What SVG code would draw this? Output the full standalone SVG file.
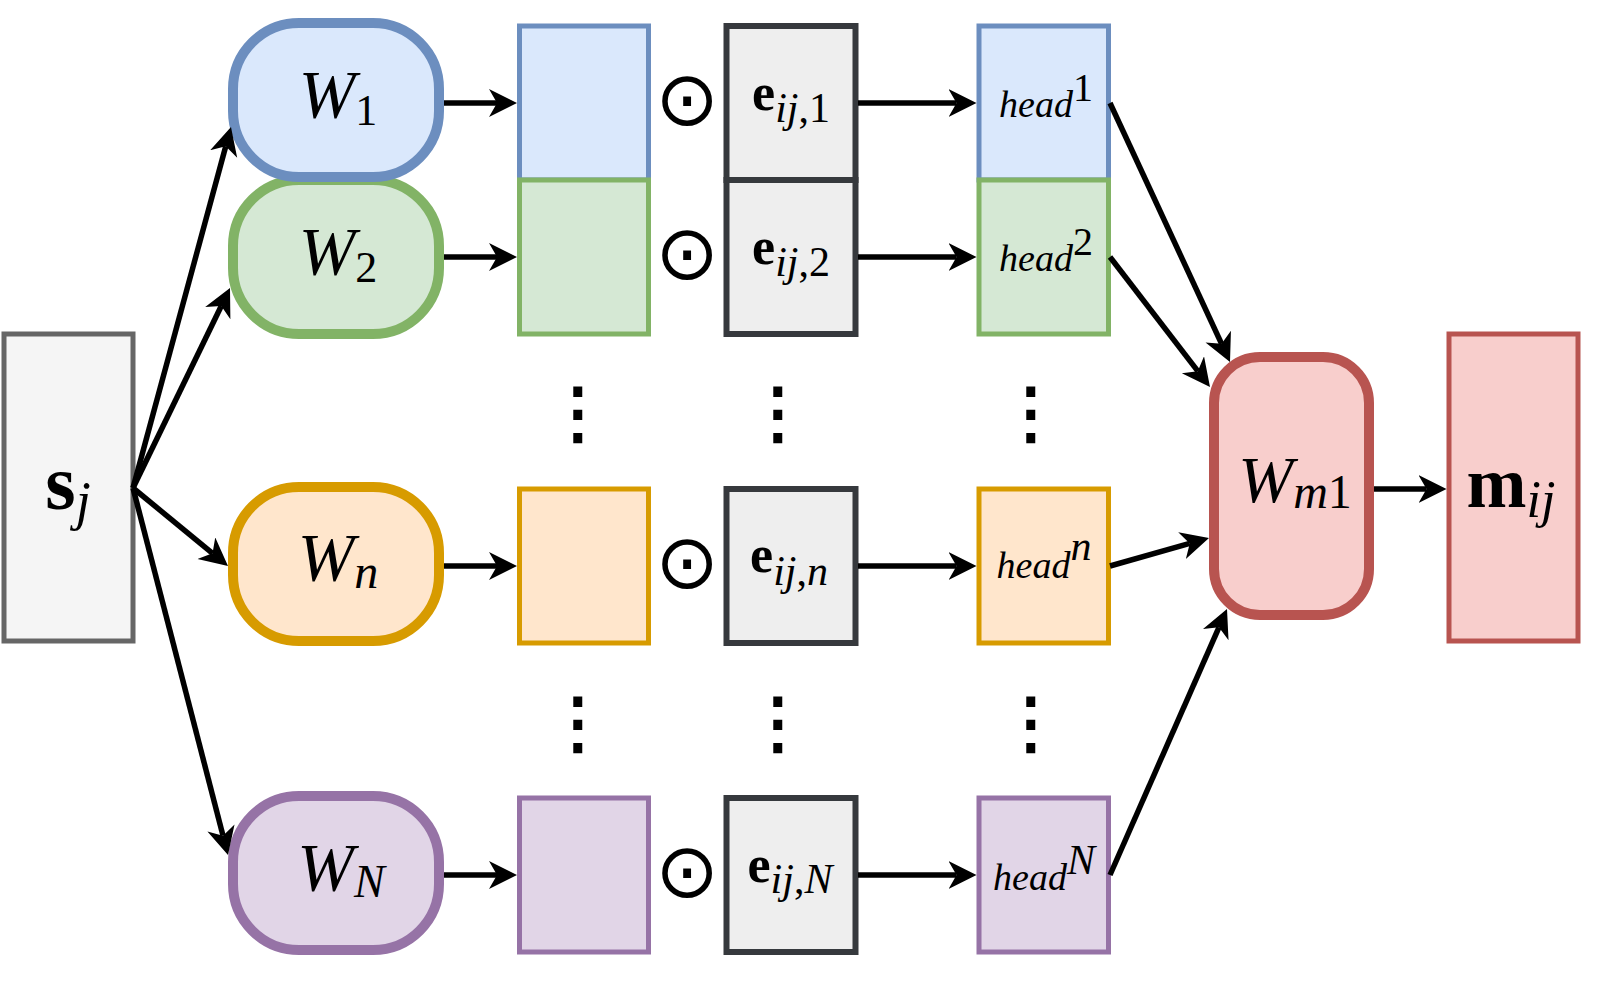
<svg xmlns="http://www.w3.org/2000/svg" width="1604" height="1004" viewBox="0 0 1604 1004">
<defs>
<marker id="arr" markerUnits="userSpaceOnUse" markerWidth="30" markerHeight="30" refX="8" refY="14" orient="auto"><path d="M0,0 L28,14 L0,28 L8,14 Z" fill="#000"/></marker>
<style>
text{font-family:"Liberation Serif","DejaVu Serif",serif;fill:#000;text-anchor:middle}
.it{font-style:italic}
.bf{font-weight:bold}
.op{font-family:"DejaVu Sans",sans-serif}
.vd{stroke:#000;stroke-width:2}
.wn{stroke-width:10}
.bx{stroke-width:5}
.ex{fill:#eeeeee;stroke:#36393d;stroke-width:6}
.blue{fill:#dae8fc;stroke:#6c8ebf}
.green{fill:#d5e8d4;stroke:#82b366}
.orange{fill:#ffe6cc;stroke:#d79b00}
.purple{fill:#e1d5e7;stroke:#9673a6}
.red{fill:#f8cecc;stroke:#b85450}
.gray{fill:#f5f5f5;stroke:#666666}
.edge{fill:none;stroke:#000;stroke-width:5.5;marker-end:url(#arr)}
</style>
</defs>
<rect width="1604" height="1004" fill="#fff"/>

<g id="s_j"><rect class="gray bx" x="4" y="334" width="129" height="307"/>
<text x="68" y="509"><tspan class="bf" font-size="78">s</tspan><tspan class="it" font-size="54" dy="10">j</tspan></text></g>

<g id="W2"><rect class="green wn" x="233" y="180" width="206" height="154" rx="66"/>
<text x="338" y="274"><tspan class="it" font-size="68">W</tspan><tspan font-size="44" dy="8">2</tspan></text></g>
<g id="W1"><rect class="blue wn" x="233" y="23" width="206" height="154" rx="66"/>
<text x="338" y="117"><tspan class="it" font-size="68">W</tspan><tspan font-size="44" dy="8">1</tspan></text></g>
<g id="Wn"><rect class="orange wn" x="233" y="487" width="206" height="154" rx="66"/>
<text x="338" y="580"><tspan class="it" font-size="68">W</tspan><tspan class="it" font-size="48" dy="8">n</tspan></text></g>
<g id="WN"><rect class="purple wn" x="233" y="796" width="206" height="154" rx="66"/>
<text x="341" y="890"><tspan class="it" font-size="68">W</tspan><tspan class="it" font-size="46" dy="7">N</tspan></text></g>

<g id="r1"><rect class="blue bx" x="519.5" y="26" width="129" height="154"/></g>
<g id="r2"><rect class="green bx" x="519.5" y="180" width="129" height="154"/></g>
<g id="rn"><rect class="orange bx" x="519.5" y="489" width="129" height="154"/></g>
<g id="rN"><rect class="purple bx" x="519.5" y="798" width="129" height="154"/></g>

<g id="odot1"><text class="op" x="687" y="125" font-size="76">⊙</text></g>
<g id="odot2"><text class="op" x="687" y="279" font-size="76">⊙</text></g>
<g id="odotn"><text class="op" x="687" y="588" font-size="76">⊙</text></g>
<g id="odotN"><text class="op" x="687" y="897" font-size="76">⊙</text></g>

<g id="e1"><rect class="ex" x="726.5" y="26" width="129" height="154"/>
<text x="791" y="110"><tspan class="bf" font-size="52">e</tspan><tspan class="it" font-size="42" dy="12">ij</tspan><tspan font-size="42">,1</tspan></text></g>
<g id="e2"><rect class="ex" x="726.5" y="180" width="129" height="154"/>
<text x="791" y="264"><tspan class="bf" font-size="52">e</tspan><tspan class="it" font-size="42" dy="12">ij</tspan><tspan font-size="42">,2</tspan></text></g>
<g id="en"><rect class="ex" x="726.5" y="489" width="129" height="154"/>
<text x="789" y="572"><tspan class="bf" font-size="52">e</tspan><tspan class="it" font-size="42" dy="13">ij</tspan><tspan font-size="42">,</tspan><tspan class="it" font-size="42">n</tspan></text></g>
<g id="eN"><rect class="ex" x="726.5" y="798" width="129" height="154"/>
<text x="790" y="882"><tspan class="bf" font-size="52">e</tspan><tspan class="it" font-size="42" dy="11">ij</tspan><tspan font-size="42">,</tspan><tspan class="it" font-size="42">N</tspan></text></g>

<g id="h1"><rect class="blue bx" x="979" y="26" width="129.5" height="154"/>
<text x="1046" y="117"><tspan class="it" font-size="38">head</tspan><tspan font-size="40" dy="-16">1</tspan></text></g>
<g id="h2"><rect class="green bx" x="979" y="180" width="129.5" height="154"/>
<text x="1046" y="271"><tspan class="it" font-size="38">head</tspan><tspan font-size="40" dy="-16">2</tspan></text></g>
<g id="hn"><rect class="orange bx" x="979" y="489" width="129.5" height="154"/>
<text x="1044" y="578"><tspan class="it" font-size="38">head</tspan><tspan class="it" font-size="42" dy="-18">n</tspan></text></g>
<g id="hN"><rect class="purple bx" x="979" y="798" width="129.5" height="154"/>
<text x="1044" y="890"><tspan class="it" font-size="38">head</tspan><tspan class="it" font-size="42" dy="-16">N</tspan></text></g>

<g id="vdots">
<text class="op vd" x="578" y="436" font-size="68">⋮</text>
<text class="op vd" x="778" y="436" font-size="68">⋮</text>
<text class="op vd" x="1031" y="436" font-size="68">⋮</text>
<text class="op vd" x="578" y="746" font-size="68">⋮</text>
<text class="op vd" x="778" y="746" font-size="68">⋮</text>
<text class="op vd" x="1031" y="746" font-size="68">⋮</text>
</g>

<g id="Wm1"><rect class="red wn" x="1214" y="357" width="155" height="258" rx="46"/>
<text x="1295" y="502"><tspan class="it" font-size="66">W</tspan><tspan class="it" font-size="48" dy="6">m</tspan><tspan font-size="48">1</tspan></text></g>
<g id="m_ij"><rect class="red bx" x="1449" y="334" width="129" height="307"/>
<text x="1511" y="507"><tspan class="bf" font-size="72">m</tspan><tspan class="it" font-size="52" dy="10">ij</tspan></text></g>

<g id="connectors">
<path class="edge" d="M133,488 L225.76,146.3"/>
<path class="edge" d="M133,488 L221.27,306"/>
<path class="edge" d="M133,488 L212.54,553.31"/>
<path class="edge" d="M133,488 L222.99,835.64"/>
<path class="edge" d="M444,103 L497,103"/>
<path class="edge" d="M444,257 L497,257"/>
<path class="edge" d="M444,566 L497,566"/>
<path class="edge" d="M444,875 L497,875"/>
<path class="edge" d="M858,103 L956.5,103"/>
<path class="edge" d="M858,257 L956.5,257"/>
<path class="edge" d="M858,566 L956.5,566"/>
<path class="edge" d="M858,875 L956.5,875"/>
<path class="edge" d="M1110,103 L1221.59,343.85"/>
<path class="edge" d="M1110,257 L1197.81,371.15"/>
<path class="edge" d="M1110,566 L1189.75,543.44"/>
<path class="edge" d="M1110,875 L1218.95,627.31"/>
<path class="edge" d="M1374,489 L1426.5,489"/>
</g>
</svg>
